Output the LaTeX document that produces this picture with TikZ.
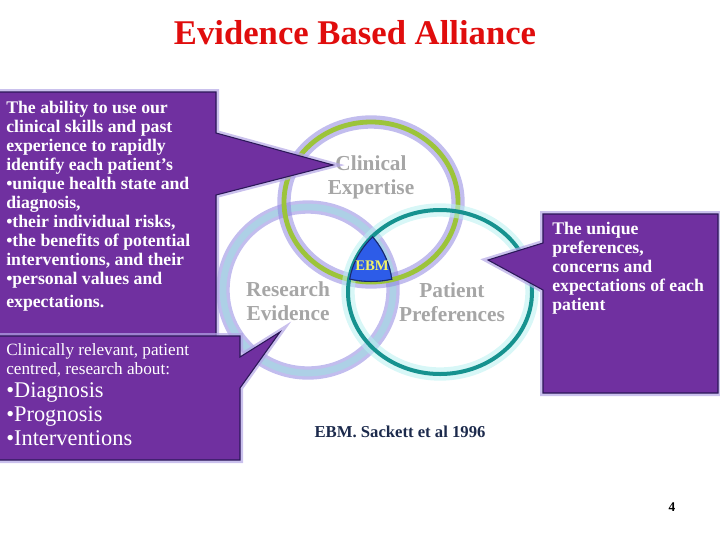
\documentclass[tikz,border=0pt]{standalone}
\usepackage{fontspec}
\setmainfont{Liberation Serif}
\usetikzlibrary{positioning,calc}
\definecolor{titlered}{HTML}{E00D0D}
\definecolor{boxpurple}{HTML}{7030A0}
\definecolor{boxedge}{HTML}{2B1858}
\definecolor{glowpurple}{HTML}{B4A6E6}
\definecolor{clingreen}{HTML}{9CC43A}
\definecolor{resblue}{HTML}{ADD0E6}
\definecolor{patteal}{HTML}{16928F}
\definecolor{ringglow}{HTML}{8F86E0}
\definecolor{tealglow}{HTML}{B8F0F0}
\definecolor{labelgray}{HTML}{A6A6A6}
\definecolor{ebmblue}{HTML}{2D5CE8}
\definecolor{ebmedge}{HTML}{1A2A6A}
\definecolor{ebmyellow}{HTML}{F2F266}
\definecolor{navy}{HTML}{1C2A4C}
\tikzset{
  callout/.style={fill=boxpurple,draw=boxedge,line width=0.8pt,line join=miter,
                  preaction={draw=glowpurple,line width=4.5pt,opacity=0.7}},
  boxtext/.style={text=white,anchor=north west,align=left,inner sep=0pt,
                  font=\bfseries\fontsize{13.3}{14.25}\selectfont},
  ringlabel/.style={text=labelgray,align=center,inner sep=0pt,
                    font=\bfseries\fontsize{16}{18}\selectfont},
  glow/.style={line width=10pt,opacity=0.55},
  ring/.style={line width=3.6pt}
}

\begin{document}
\begin{tikzpicture}[x=0.75pt,y=-0.75pt]
  \useasboundingbox (0,0) rectangle (720,540);
  \coordinate (cC) at (371,202);
  \coordinate (cR) at (308,290);
  \coordinate (cP) at (440,292);

  \draw[glow,ringglow] (cR) ellipse [x radius=85,y radius=83];
  \draw[ring,resblue,line width=5pt] (cR) ellipse [x radius=85,y radius=83];
  \draw[glow,ringglow] (cC) ellipse [x radius=87,y radius=80];
  \draw[ring,clingreen] (cC) ellipse [x radius=87,y radius=80];
  \draw[glow,tealglow] (cP) ellipse [x radius=92,y radius=82];
  \draw[ring,patteal,line width=3pt] (cP) ellipse [x radius=92,y radius=82];

  \begin{scope}
    \clip (cC) ellipse [x radius=87,y radius=80];
    \clip (cR) ellipse [x radius=85,y radius=83];
    \clip (cP) ellipse [x radius=92,y radius=82];
    \fill[ebmblue] (0,0) rectangle (720,540);
    \draw[ebmedge,line width=1.6pt] (cC) ellipse [x radius=87,y radius=80];
    \draw[ebmedge,line width=1.6pt] (cR) ellipse [x radius=85,y radius=83];
    \draw[ebmedge,line width=1.6pt] (cP) ellipse [x radius=92,y radius=82];
  \end{scope}

  \node[font=\bfseries\fontsize{26}{30}\selectfont,text=titlered] (title) at (355,33) {Evidence Based Alliance};
  \node[ringlabel] (clin) at (371,177) {Clinical\\Expertise};
  \node[ringlabel] (res) at (288,301) {Research\\Evidence};
  \node[ringlabel] (pat) at (452,302) {Patient\\Preferences};
  \node[text=ebmyellow,inner sep=0pt,font=\bfseries\fontsize{11}{13}\selectfont] (ebm) at (372,266) {EBM};

  \coordinate (tipA) at (333,165);
  \coordinate (tipB) at (280,332);
  \coordinate (tipC) at (488,260);

  \draw[callout] (-3,92) -- (216,92) -- (216,133) -- (tipA) -- (216,195) -- (216,340) -- (-3,340) -- cycle;
  \node[boxtext] (c1) at (6,101) {The ability to use our\\clinical skills and past\\experience to rapidly\\identify each patient's\\%
    •unique health state and\\diagnosis,\\•their individual risks,\\•the benefits of potential\\%
    interventions, and their\\•personal values and\\[3pt]expectations.};

  \draw[callout] (-3,336) -- (240,336) -- (240,357) -- (tipB) -- (240,388) -- (240,460) -- (-3,460) -- cycle;
  \node[boxtext,font=\fontsize{12.9}{14.25}\selectfont] (c2) at (6,343) {Clinically relevant, patient\\centred, research about:};
  \node[boxtext,font=\fontsize{16.8}{18}\selectfont] (c2list) at (6,382) {•Diagnosis\\•Prognosis\\•Interventions};

  \draw[callout] (543,214) -- (718,214) -- (718,393) -- (543,393) -- (543,290) -- (tipC) -- (543,243) -- cycle;
  \node[boxtext] (c3) at (552,222) {The unique\\preferences,\\concerns and\\expectations of each\\patient};

  \node[font=\bfseries\fontsize{12.5}{14}\selectfont,text=navy] (ref) at (400,432) {EBM. Sackett et al 1996};
  \node[font=\bfseries\fontsize{10}{12}\selectfont] (pg) at (672,507) {4};
\end{tikzpicture}
\end{document}
